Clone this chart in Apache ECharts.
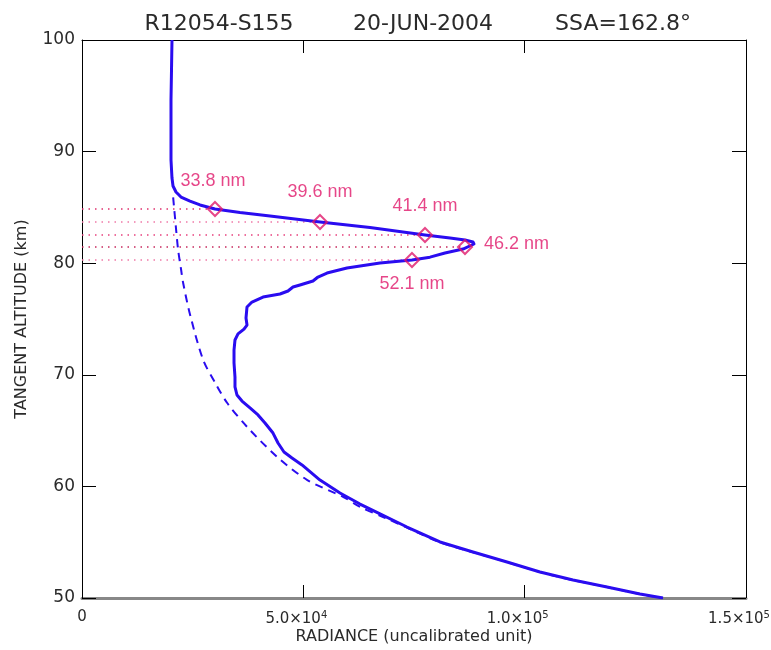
<!DOCTYPE html>
<html>
<head>
<meta charset="utf-8">
<script src="https://cdn.jsdelivr.net/npm/echarts@6/dist/echarts.min.js"></script>
<style>html,body{margin:0;padding:0;background:#fff}#c{width:771px;height:650px}</style>
</head>
<body>
<div id="c"></div>
<script>
// ---- data ----
var titleParts = ['R12054-S155', '20-JUN-2004', 'SSA=162.8\u00b0'];
var xTickValues = [0, 50000, 100000, 150000];
var xTickLabels = ['0', '5.0\u00d710{s|4}{p| }', '1.0\u00d710{s|5}{p| }', '1.5\u00d710{s|5}{p| }'];
var yTickValues = [50, 60, 70, 80, 90, 100];

// measured radiance profile (solid)
var solidX = [20330, 20220, 20105, 20105, 20105, 20330, 20560, 21235, 22365, 24400, 26660, 30045, 35690, 42470,
  53765, 65060, 77485, 83130, 86520, 88325, 88550, 86070, 82000, 78610, 74545, 67320, 59860, 55345, 53310, 52180,
  49245, 47665, 46535, 44730, 40890, 38400, 37275, 37050, 37275, 36600, 35240, 34560, 34340, 34340, 34560, 34560,
  35010, 36145, 37950, 39760, 41340, 43150, 44280, 45630, 47440, 49700, 53765, 58280, 62800, 67320, 73420, 80870,
  88325, 96010, 103460, 110920, 118600, 126050, 131245];
var solidY = [100, 97.31, 94.62, 91.94, 89.25, 87.63, 86.92, 86.38, 85.93, 85.57, 85.22, 84.86, 84.54, 84.23,
  83.69, 83.2, 82.53, 82.26, 82.08, 81.9, 81.72, 81.27, 80.91, 80.54, 80.29, 80.02, 79.57, 79.12, 78.76, 78.41,
  78.05, 77.87, 77.51, 77.24, 76.97, 76.52, 76.08, 75.09, 74.46, 74.1, 73.66, 73.12, 72.22, 71.06, 69.8, 68.91,
  68.19, 67.65, 67.03, 66.4, 65.68, 64.78, 63.89, 63.08, 62.54, 61.92, 60.57, 59.41, 58.42, 57.53, 56.36, 55.02,
  54.12, 53.23, 52.33, 51.61, 50.99, 50.36, 50.0];

// model / background profile (dashed)
var dashedX = [20590, 20810, 21270, 21720, 22400, 22850, 24430, 27380, 30200, 32810, 37330, 44120, 50900, 59050,
  62900, 68550, 73420, 80870, 88325, 96010, 103460, 110920, 118600, 126050, 131245];
var dashedY = [85.9, 84.95, 82.97, 81.18, 79.39, 78.23, 75.36, 71.33, 69.2, 67.47, 65.32, 62.63, 60.57, 59.05,
  58.15, 57.17, 56.3, 55.0, 54.1, 53.22, 52.32, 51.6, 50.98, 50.35, 50.0];

// wavelength markers
var markerNames = ['33.8 nm', '39.6 nm', '41.4 nm', '46.2 nm', '52.1 nm'];
var markerX = [30045, 53765, 77485, 86520, 74545];
var markerY = [84.86, 83.69, 82.53, 81.45, 80.29];

// ---- styling ----
var LFONT = 'Liberation Sans';
var AFONT = 'DejaVu Sans';
var TXT = '#2a2a2a';
var BLUE = '#2a0cf0';
var MARK = '#e0186a';
var dotColors = ['#e0306e', '#f07aa8', '#e8407e', '#c8285e', '#f07aa8'];
var labelPlace = [
  {position: 'top', offset: [-2, -6]},
  {position: 'top', offset: [0, -8]},
  {position: 'top', offset: [0, -7]},
  {position: 'right', offset: [6, -3]},
  {position: 'bottom', offset: [0, 2]}
];

function pairs(xs, ys) { return xs.map(function (x, i) { return [x, ys[i]]; }); }

var series = [];
markerNames.forEach(function (n, i) {
  series.push({
    type: 'line', silent: true, symbol: 'none', z: 1,
    data: [[0, markerY[i]], [markerX[i], markerY[i]]],
    lineStyle: {color: dotColors[i], width: 1.5, type: [1.5, 5]}
  });
});
series.push({
  type: 'line', symbol: 'none', z: 3, smooth: 0.3, data: pairs(dashedX, dashedY),
  lineStyle: {color: BLUE, width: 2, type: [8, 6]}
});
series.push({
  type: 'line', symbol: 'none', z: 4, data: pairs(solidX, solidY),
  lineStyle: {color: BLUE, width: 3, join: 'round'}
});
series.push({
  type: 'scatter', z: 5, symbol: 'diamond', symbolSize: [14, 14],
  itemStyle: {color: 'rgba(0,0,0,0)', borderColor: MARK, borderWidth: 2},
  data: markerNames.map(function (n, i) {
    return {
      value: [markerX[i], markerY[i]], name: n,
      label: {show: true, formatter: n, position: labelPlace[i].position, offset: labelPlace[i].offset,
        color: MARK, fontSize: 18, fontFamily: LFONT}
    };
  })
});

var chart = echarts.init(document.getElementById('c'), null, {renderer: 'canvas'});
chart.setOption({
  animation: false,
  backgroundColor: '#fff',
  title: [
    {text: titleParts[0], left: 214, top: 8, textAlign: 'center'},
    {text: titleParts[1], left: 418, top: 8, textAlign: 'center'},
    {text: titleParts[2], left: 618, top: 8, textAlign: 'center'}
  ].map(function (t) {
    t.textStyle = {fontFamily: AFONT, fontSize: 22, fontWeight: 'normal', color: TXT};
    return t;
  }),
  grid: {left: 82, right: 25, top: 40, bottom: 52, containLabel: false, outerBoundsMode: 'none'},
  xAxis: [{
    type: 'value', min: 0, max: 150000, interval: 50000, position: 'bottom',
    name: 'RADIANCE (uncalibrated unit)', nameLocation: 'middle', nameGap: 31, nameMoveOverlap: false,
    nameTextStyle: {fontFamily: AFONT, fontSize: 16, color: TXT},
    axisLine: {show: true, onZero: false, lineStyle: {color: '#888', width: 3}},
    axisTick: {show: true, inside: true, length: 13, lineStyle: {color: '#000', width: 1}},
    splitLine: {show: false},
    axisLabel: {
      margin: 12, fontFamily: AFONT, fontSize: 15, color: TXT,
      formatter: function (v) { var i = xTickValues.indexOf(v); return i >= 0 ? xTickLabels[i] : ''; },
      rich: {
        s: {fontSize: 10, fontFamily: AFONT, color: TXT, verticalAlign: 'top', padding: [0, 0, 9, 0]},
        p: {width: 14, fontSize: 10}
      }
    }
  }, {
    type: 'value', min: 0, max: 150000, interval: 50000, position: 'top',
    axisLine: {show: true, onZero: false, lineStyle: {color: '#000', width: 1}},
    axisTick: {show: true, inside: true, length: 13, lineStyle: {color: '#000'}},
    axisLabel: {show: false}, splitLine: {show: false}
  }],
  yAxis: [{
    type: 'value', min: 50, max: 100, interval: 10, position: 'left',
    name: 'TANGENT ALTITUDE (km)', nameLocation: 'middle', nameGap: 52, nameRotate: 90, nameMoveOverlap: false,
    nameTextStyle: {fontFamily: AFONT, fontSize: 16, color: TXT},
    axisLine: {show: true, onZero: false, lineStyle: {color: '#000', width: 1}},
    axisTick: {show: true, inside: true, length: 14, lineStyle: {color: '#000'}},
    splitLine: {show: false},
    axisLabel: {margin: 7, fontFamily: AFONT, fontSize: 17, color: TXT,
      formatter: function (v) { return yTickValues.indexOf(v) >= 0 ? String(v) : ''; }}
  }, {
    type: 'value', min: 50, max: 100, interval: 10, position: 'right',
    axisLine: {show: true, onZero: false, lineStyle: {color: '#000', width: 1}},
    axisTick: {show: true, inside: true, length: 14, lineStyle: {color: '#000'}},
    axisLabel: {show: false}, splitLine: {show: false}
  }],
  series: series
});
</script>
</body>
</html>
